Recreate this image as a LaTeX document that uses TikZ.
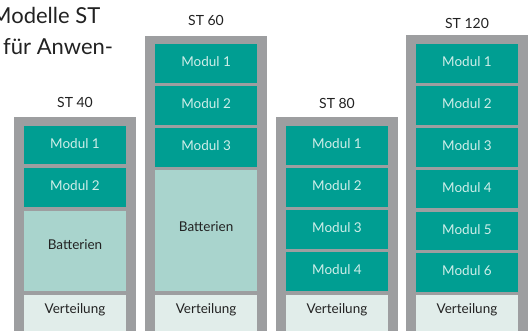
\documentclass[tikz,border=0pt]{standalone}
\usepackage{fontspec}
\setmainfont{Lato}
\definecolor{cabgray}{HTML}{9D9EA0}
\definecolor{modteal}{HTML}{009E92}
\definecolor{modtext}{HTML}{CFEEE9}
\definecolor{battcol}{HTML}{A9D4CD}
\definecolor{vertcol}{HTML}{E1EDEA}
\definecolor{txtcol}{HTML}{222222}
\begin{document}
\begin{tikzpicture}[x=1pt,y=-1pt,
  cab/.style={fill=cabgray},
  modbox/.style={fill=modteal},
  battbox/.style={fill=battcol},
  vertbox/.style={fill=vertcol},
  modlabel/.style={text=modtext,font=\fontsize{13.5}{15}\selectfont,yshift=1.5pt},
  darklabel/.style={text=txtcol,font=\fontsize{13.5}{15}\selectfont},
  titlelabel/.style={text=txtcol,font=\fontsize{14}{16}\selectfont},
  bigtext/.style={text=txtcol,font=\fontsize{22}{26}\selectfont,anchor=base west,inner sep=0pt}]
\useasboundingbox (0,0) rectangle (532,331);
\clip (0,0) rectangle (532,331);
\fill[white] (0,0) rectangle (532,331);
% intro text
\node[bigtext] (t1) at (-9,24) {Modelle ST};
\node[bigtext] (t2) at (3,55) {für Anwen-};
% ST 40
\fill[cab] (14,117) rectangle (136,331);
\node[titlelabel] (l40) at (75,102) {ST 40};
\fill[modbox] (24,125.7) rectangle (126,164) node[midway,modlabel] (a1) {Modul 1};
\fill[modbox] (24,167.7) rectangle (126,206.7) node[midway,modlabel] (a2) {Modul 2};
\fill[battbox] (24,210.7) rectangle (126,291) node[midway,darklabel,yshift=6pt] (ab) {Batterien};
\fill[vertbox] (24,295) rectangle (126,331) node[midway,darklabel,yshift=3pt] (av) {Verteilung};
% ST 60
\fill[cab] (145,35.7) rectangle (267.3,331);
\node[titlelabel] (l60) at (206,20) {ST 60};
\fill[modbox] (155,44) rectangle (257.3,82.7) node[midway,modlabel] (b1) {Modul 1};
\fill[modbox] (155,86) rectangle (257.3,125) node[midway,modlabel] (b2) {Modul 2};
\fill[modbox] (155,128) rectangle (257.3,166.7) node[midway,modlabel] (b3) {Modul 3};
\fill[battbox] (155,170) rectangle (257.3,290.7) node[midway,darklabel,yshift=3.5pt] (bb) {Batterien};
\fill[vertbox] (155,294.7) rectangle (257.3,331) node[midway,darklabel,yshift=3pt] (bv) {Verteilung};
% ST 80
\fill[cab] (276,117.3) rectangle (398,331);
\node[titlelabel] (l80) at (337,103) {ST 80};
\fill[modbox] (286,126) rectangle (388,165) node[midway,modlabel] (c1) {Modul 1};
\fill[modbox] (286,168) rectangle (388,206.7) node[midway,modlabel] (c2) {Modul 2};
\fill[modbox] (286,210) rectangle (388,249) node[midway,modlabel] (c3) {Modul 3};
\fill[modbox] (286,252) rectangle (388,291) node[midway,modlabel] (c4) {Modul 4};
\fill[vertbox] (286,295) rectangle (388,331) node[midway,darklabel,yshift=3pt] (cv) {Verteilung};
% ST 120
\fill[cab] (406,34.7) rectangle (528,331);
\node[titlelabel] (l120) at (467,23) {ST 120};
\fill[modbox] (416,43.7) rectangle (518,82.7) node[midway,modlabel] (d1) {Modul 1};
\fill[modbox] (416,86) rectangle (518,125) node[midway,modlabel] (d2) {Modul 2};
\fill[modbox] (416,128) rectangle (518,166.7) node[midway,modlabel] (d3) {Modul 3};
\fill[modbox] (416,169.7) rectangle (518,208.3) node[midway,modlabel] (d4) {Modul 4};
\fill[modbox] (416,211.7) rectangle (518,250) node[midway,modlabel] (d5) {Modul 5};
\fill[modbox] (416,253.3) rectangle (518,291.7) node[midway,modlabel] (d6) {Modul 6};
\fill[vertbox] (416,295.3) rectangle (518,331) node[midway,darklabel,yshift=3pt] (dv) {Verteilung};
\end{tikzpicture}
\end{document}
